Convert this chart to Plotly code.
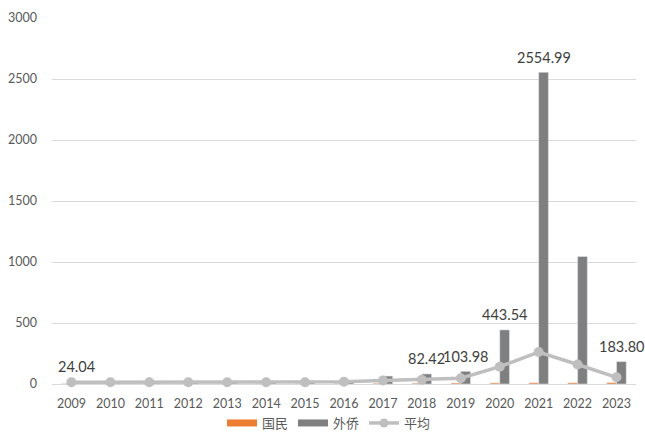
import plotly.graph_objects as go

# Yearly series
years = ["2009", "2010", "2011", "2012", "2013", "2014", "2015", "2016",
         "2017", "2018", "2019", "2020", "2021", "2022", "2023"]
guomin = [3, 3, 3, 3, 4, 4, 4, 5, 6, 7, 8, 9, 10, 10, 12]
waiqiao = [24.04, 22, 22, 23, 24, 25, 26, 28, 65, 82.42, 103.98, 443.54,
           2554.99, 1045, 183.80]
pingjun = [14, 14, 14, 14, 14, 14, 15, 18, 28, 35, 47, 142, 262, 160, 55]

# Only selected bars carry a value label
labelled_years = ["2009", "2018", "2019", "2020", "2021", "2023"]

ORANGE = "#ED7D31"
GREY = "#7F7F7F"
LIGHT = "#BFBFBF"
TEXT = "#595959"
FONT = "Lato, 'Noto Sans CJK SC', sans-serif"

fig = go.Figure()

fig.add_trace(go.Bar(x=years, y=guomin, name="国民", marker_color=ORANGE,
                     showlegend=False))
fig.add_trace(go.Bar(x=years, y=waiqiao, name="外侨", marker_color=GREY,
                     showlegend=False))
fig.add_trace(go.Scatter(x=years, y=pingjun, name="平均", mode="lines+markers",
                         line=dict(color=LIGHT, width=3.5),
                         marker=dict(color=LIGHT, size=10),
                         cliponaxis=False, showlegend=False))

# Legend entries: wide flat swatches for the bars, line+marker for the mean
fig.add_trace(go.Scatter(x=[None], y=[None], name="国民", mode="lines",
                         line=dict(color=ORANGE, width=7)))
fig.add_trace(go.Scatter(x=[None], y=[None], name="外侨", mode="lines",
                         line=dict(color=GREY, width=7)))
fig.add_trace(go.Scatter(x=[None], y=[None], name="平均", mode="lines+markers",
                         line=dict(color=LIGHT, width=3.5),
                         marker=dict(color=LIGHT, size=9)))

# Value labels above the 外侨 bars (bar sits right of the category centre);
# category axes take the category index for annotation positions
for i, (y, v) in enumerate(zip(years, waiqiao)):
    if y in labelled_years:
        fig.add_annotation(x=i, y=v, text=f"{v:.2f}", showarrow=False,
                           xshift=5, yshift=15, yanchor="middle",
                           font=dict(size=14.5, color="#404040", family=FONT))

fig.update_layout(
    width=645, height=438,
    margin=dict(l=52, r=9, t=18, b=54, autoexpand=False),
    paper_bgcolor="white", plot_bgcolor="white",
    barmode="group", bargap=0.5, bargroupgap=0,
    font=dict(family=FONT, size=12, color=TEXT),
    legend=dict(orientation="h", xref="container", x=329 / 645,
                xanchor="center", yref="container", y=-5 / 438,
                yanchor="bottom", font=dict(size=13, color=TEXT),
                itemwidth=30, traceorder="normal"),
)
fig.update_xaxes(type="category", range=[-0.5, len(years) - 0.5],
                 showgrid=False, showline=False,
                 ticks="", ticklabelstandoff=10,
                 tickfont=dict(size=12.5, color=TEXT))
fig.update_yaxes(range=[0, 3000], dtick=500, showgrid=True,
                 gridcolor="#D9D9D9", gridwidth=1,
                 zeroline=True, zerolinecolor="#D9D9D9", zerolinewidth=1,
                 showline=False, ticks="", ticklabelstandoff=14,
                 tickfont=dict(size=12.5, color=TEXT))

fig.write_html("out.html")
